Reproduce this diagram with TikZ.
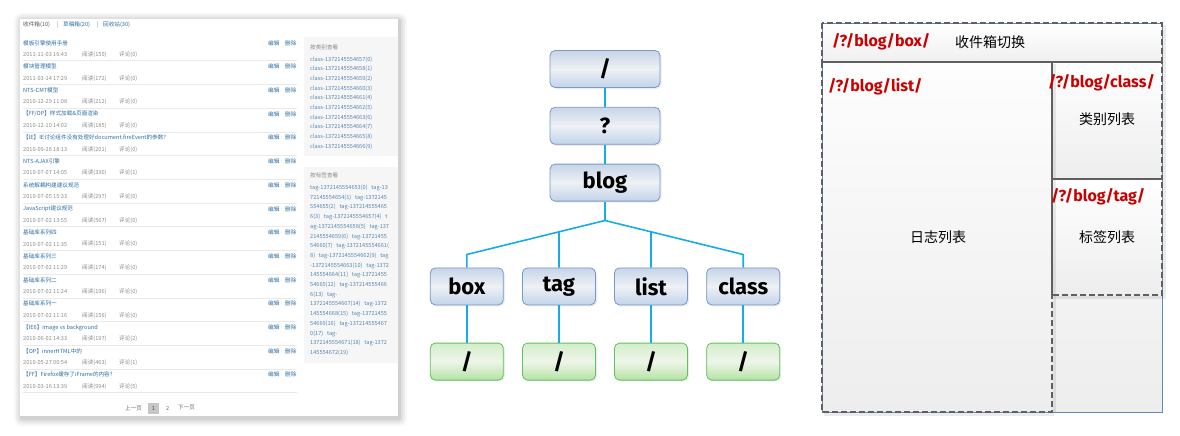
\documentclass[tikz,border=0pt]{standalone}
\usepackage{fontspec}
\setmainfont{Fira Sans}
\newfontfamily\cjk{Noto Sans CJK SC}
\usetikzlibrary{positioning}
\usetikzlibrary{calc}
\usetikzlibrary{shadows}

\definecolor{linkblue}{RGB}{45,110,165}
\definecolor{metagray}{RGB}{140,140,140}
\definecolor{sideblue}{RGB}{85,135,180}
\definecolor{rulegray}{RGB}{234,234,234}
\definecolor{sidefill}{RGB}{246,246,246}
\definecolor{barpurple}{RGB}{160,110,175}
\definecolor{treeline}{RGB}{22,172,232}
\definecolor{nodeblue}{RGB}{122,152,200}
\definecolor{bluetop}{RGB}{198,213,232}
\definecolor{bluemid}{RGB}{238,241,245}
\definecolor{bluebot}{RGB}{194,211,234}
\definecolor{nodegreen}{RGB}{95,192,95}
\definecolor{greentop}{RGB}{212,238,202}
\definecolor{greenmid}{RGB}{238,245,234}
\definecolor{greenbot}{RGB}{182,226,164}
\definecolor{pathred}{RGB}{200,0,0}
\definecolor{boxline}{RGB}{95,95,95}
\definecolor{frameblue}{RGB}{95,135,190}

\begin{document}
\begin{tikzpicture}[x=1pt, y=-1pt,
            bluesquarednode/.style={rectangle, rounded corners=5pt, draw=nodeblue, line width=0.8pt, top color=bluetop, bottom color=bluebot, middle color=bluemid, minimum width=73pt, minimum height=37pt, font=\bfseries\fontsize{22}{22}\selectfont, drop shadow={shadow xshift=1.5pt, shadow yshift=-1.5pt, opacity=0.15}},
            greensquarednode/.style={bluesquarednode, draw=nodegreen, top color=greentop, bottom color=greenbot, middle color=greenmid},
            widenode/.style={minimum width=110pt},
            treeedge/.style={draw=treeline, line width=1.6pt},
            small/.style={inner sep=0pt, anchor=west, font=\cjk\fontsize{5.6}{6}\selectfont},
            posttitle/.style={small, text=linkblue},
            postmeta/.style={small, text=metagray},
            sidelink/.style={small, text=sideblue},
            dashbox/.style={draw=boxline, line width=1.3pt, dash pattern=on 6pt off 3pt},
            boxshadow/.style={draw=black, opacity=0.08, line width=3pt},
            pathlabel/.style={inner sep=0pt, anchor=west, text=pathred, font=\bfseries\fontsize{16}{16}\selectfont},
            cnlabel/.style={inner sep=0pt, font=\cjk\fontsize{14}{14}\selectfont},
            ]
            \useasboundingbox (0,0) rectangle (1180,436);
            % screenshot of the blog list
            \foreach \k/\op in {8/0.03,6/0.04,4/0.05,2/0.07}
                \fill[black, opacity=\op, rounded corners=\k pt] ({20-\k+2},{19-\k+2}) rectangle ({398+\k+1},{416+\k+2});
            \fill[white] (20,19) rectangle (398,416);
            \node[small, text=black!65] (inbox) at (23,25) {收件箱(10)};
            \node[small, text=barpurple] (bar1) at (57,25) {|};
            \node[posttitle] (drafts) at (63,25) {草稿箱(20)};
            \node[small, text=barpurple] (bar2) at (97,25) {|};
            \node[posttitle] (trash) at (103,25) {回收站(30)};
            \foreach \title/\when/\reads/\notes [count=\i from 0] in {
                {模板引擎使用手册}/{2011-11-03 16:43}/150/0,
                {模块管理模型}/{2011-03-14 17:29}/172/0,
                {NTS-CMT模型}/{2010-12-29 11:08}/212/0,
                {【FF/OP】样式加载\&页面渲染}/{2010-12-10 14:02}/185/0,
                {【IE】IE讨论组件没有处理好document.fireEvent的参数?}/{2010-09-26 18:13}/201/0,
                {NTS-AJAX引擎}/{2010-07-07 14:05}/330/1,
                {系统解耦构建建议规范}/{2010-07-05 15:33}/297/0,
                {JavaScript建议规范}/{2010-07-02 13:55}/567/0,
                {基础库系列四}/{2010-07-02 11:35}/151/0,
                {基础库系列三}/{2010-07-02 11:29}/174/0,
                {基础库系列二}/{2010-07-02 11:24}/196/0,
                {基础库系列一}/{2010-07-02 11:16}/156/0,
                {【IE6】image vs background}/{2010-06-02 14:33}/197/2,
                {【OP】innerHTML中的}/{2010-05-27 00:54}/463/1,
                {【FF】Firefox缓存了iFrame的内容?}/{2010-03-16 13:39}/994/5}
            {
                \node[posttitle] (t\i) at (23,43+23.7*\i) {\title};
                \node[postmeta] (d\i) at (23,54.5+23.7*\i) {\when};
                \node[postmeta] (r\i) at (82,54.5+23.7*\i) {阅读(\reads)};
                \node[postmeta] (c\i) at (119,54.5+23.7*\i) {评论(\notes)};
                \node[posttitle] (e\i) at (268,43+23.7*\i) {编辑};
                \node[posttitle] (x\i) at (285,43+23.7*\i) {删除};
                \draw[rulegray, line width=0.6pt] (23,60.8+23.7*\i) -- (297,60.8+23.7*\i);
            }
            \fill[sidefill] (304,37) rectangle (398,156);
            \fill[sidefill] (304,167) rectangle (398,363);
            \node[postmeta] (byclass) at (310,47) {按类别查看};
            \foreach \n [count=\i from 0] in {57,58,59,60,61,62,63,64,65,66}
                \node[sidelink] (cl\i) at (310,59.3+9.7*\i) {class-13721455546\n(\i)};
            \node[postmeta] (bytag) at (310,175) {按标签查看};
            \foreach \row [count=\i from 0] in {
                {tag-1372145554653(0)~~ tag-13},
                {72145554654(1)~~ tag-1372145},
                {554655(2)~~ tag-137214555465},
                {6(3)~~ tag-1372145554657(4)~~ t},
                {ag-1372145554658(5)~~ tag-137},
                {2145554659(6)~~ tag-13721455},
                {54660(7)~~ tag-1372145554661(},
                {8)~~ tag-1372145554662(9)~~ tag},
                {-1372145554663(10)~~ tag-1372},
                {145554664(11)~~ tag-13721455},
                {54665(12)~~ tag-137214555466},
                {6(13)~~ tag-},
                {1372145554667(14)~~ tag-1372},
                {145554668(15)~~ tag-13721455},
                {54669(16)~~ tag-137214555467},
                {0(17)~~ tag-},
                {1372145554671(18)~~ tag-1372},
                {145554672(19)}}
                \node[sidelink] (tg\i) at (310,188+9.7*\i) {\row};
            \node[postmeta, text=black!60] (prev) at (125,408) {上一页};
            \fill[black!22] (148,403) rectangle (159,413.5);
            \node[postmeta, text=black!70, anchor=center] (page1) at (153.5,408) {1};
            \node[postmeta, text=black!60] (page2) at (166,408) {2};
            \node[postmeta, text=black!60] (next) at (178,408) {下一页};
            % url tree
            \node[bluesquarednode, widenode] (root) at (605,69) {/};
            \node[bluesquarednode, widenode, below=19pt of root] (query) {?};
            \node[bluesquarednode, widenode, below=19pt of query] (blog) {blog};
            \node[bluesquarednode, below=66pt of blog, xshift=-46pt] (tag) {tag};
            \node[bluesquarednode, left=18.4pt of tag] (box) {box};
            \node[bluesquarednode, below=66pt of blog, xshift=46pt] (list) {list};
            \node[bluesquarednode, right=18.4pt of list] (class) {class};
            \node[greensquarednode, below=37.4pt of box] (boxend) {/};
            \node[greensquarednode, below=37.4pt of tag] (tagend) {/};
            \node[greensquarednode, below=37.4pt of list] (listend) {/};
            \node[greensquarednode, below=37.4pt of class] (classend) {/};
            \coordinate[below=19pt of blog.south] (fork);
            \coordinate (boxjoin) at ($(box.north)+(0,13pt)$);
            \coordinate (classjoin) at ($(class.north)+(0,13pt)$);
            \draw[treeedge] (root) -- (query);
            \draw[treeedge] (query) -- (blog);
            \draw[treeedge] (blog) -- (fork);
            \draw[treeedge] (box) -- (boxjoin) -- (fork) -- (classjoin) -- (class);
            \draw[treeedge] (tag) -- (intersection of fork--boxjoin and tag.north--tag.south);
            \draw[treeedge] (list) -- (intersection of fork--classjoin and list.north--list.south);
            \draw[treeedge] (box) -- (boxend);
            \draw[treeedge] (tag) -- (tagend);
            \draw[treeedge] (list) -- (listend);
            \draw[treeedge] (class) -- (classend);
            % page layout
            \shade[top color=white, bottom color=black!7] (822,23) rectangle (1162,412);
            \shade[top color=white, bottom color=black!6] (822,23) rectangle (1162,62);
            \shade[top color=white, bottom color=black!7] (1052,62) rectangle (1162,179);
            \shade[top color=white, bottom color=black!7] (1052,179) rectangle (1162,295);
            \draw[frameblue, line width=0.8pt] (822,23) rectangle (1162,412);
            \draw[boxshadow] (1164,25) -- (1164,64);
            \draw[boxshadow] (1054,64) -- (1054,412);
            \draw[boxshadow] (824,414) -- (1054,414);
            \draw[boxshadow] (1164,64) -- (1164,297) -- (1054,297);
            \draw[dashbox] (822,23) rectangle (1162,62);
            \draw[dashbox] (822,62) rectangle (1052,412);
            \draw[dashbox] (1052,62) rectangle (1162,179);
            \draw[dashbox] (1052,179) rectangle (1162,295);
            \node[pathlabel] (boxurl) at (832,42) {/?/blog/box/};
            \node[cnlabel, anchor=west] (boxtext) at (955,42) {收件箱切换};
            \node[pathlabel] (listurl) at (828,87) {/?/blog/list/};
            \node[pathlabel] (classurl) at (1048,83) {/?/blog/class/};
            \node[cnlabel] (classtext) at (1107,119) {类别列表};
            \node[pathlabel] (tagurl) at (1051,197) {/?/blog/tag/};
            \node[cnlabel] (tagtext) at (1107,237) {标签列表};
            \node[cnlabel] (listtext) at (938,237) {日志列表};
        \end{tikzpicture}
\end{document}
